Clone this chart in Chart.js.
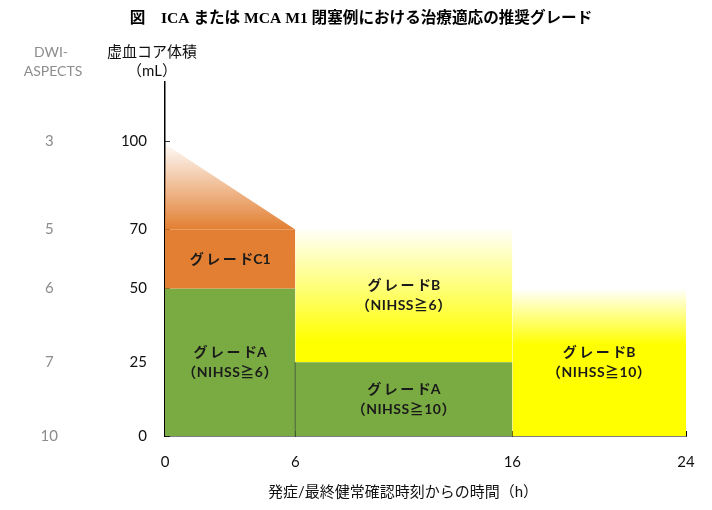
<!DOCTYPE html>
<html>
<head>
<meta charset="utf-8">
<script src="https://cdn.jsdelivr.net/npm/chart.js@4.4.1/dist/chart.umd.min.js"></script>
<style>
  html, body { margin: 0; padding: 0; background: #fff; }
  #wrap { width: 712px; height: 510px; }
</style>
</head>
<body>
<div id="wrap"><canvas id="chart"></canvas></div>
<script>
// time axis (h) and core volume axis (mL)
const hours = [0, 6, 16, 24];
const coreTicks = [0, 25, 50, 70, 100];
const aspectsTicks = ['10', '7', '6', '5', '3'];

// region outlines: [hours, core volume]
const gradeC1 = [[0, 70], [6, 70]];        // from 50
const gradeC1Fade = [[0, 99], [6, 70]];    // from 70
const gradeA6 = [[0, 50], [6, 50]];        // from 0
const gradeA10 = [[6, 25], [16, 25]];      // from 0
const gradeB6 = [[6, 70], [16, 70]];       // from 25
const gradeB10 = [[16, 50], [24, 50]];     // from 0
const splitLine = [[6, 0], [6, 25]];

// label text and where it sits (hours, mL)
const gradeLabels = [
  { x: 3, y: 60, grade: 'C1', sub: null },
  { x: 3, y: 25, grade: 'A', sub: '（NIHSS≧6）' },
  { x: 11, y: 47.5, grade: 'B', sub: '（NIHSS≧6）' },
  { x: 11, y: 12.5, grade: 'A', sub: '（NIHSS≧10）' },
  { x: 20, y: 25, grade: 'B', sub: '（NIHSS≧10）' }
];

const TITLE = '図　ICA または MCA M1 閉塞例における治療適応の推奨グレード';
const JP = "'Lato', 'Noto Sans CJK JP', sans-serif";
const ORANGE = '#E27F32';
const GREEN = '#7AAB43';

const pts = (arr) => arr.map(p => ({ x: p[0], y: p[1] }));

// vertical fade: transparent at "from", solid at "to"
const fade = (rgb, from, to) => (context) => {
  const chart = context.chart;
  if (!chart.chartArea) return 'rgba(' + rgb + ',1)';
  const y = chart.scales.y;
  const g = chart.ctx.createLinearGradient(0, y.getPixelForValue(from), 0, y.getPixelForValue(to));
  g.addColorStop(0, 'rgba(' + rgb + ',0)');
  g.addColorStop(1, 'rgba(' + rgb + ',1)');
  return g;
};

const area = (data, base, color) => ({
  data: pts(data),
  borderWidth: 0,
  borderColor: 'rgba(0,0,0,0)',
  backgroundColor: color,
  fill: base === 0 ? 'origin' : { value: base }
});

const labelPlugin = {
  id: 'labels',
  afterDatasetsDraw(chart) {
    const { ctx, scales } = chart;
    ctx.save();
    ctx.fillStyle = '#1a1a1a';
    ctx.font = 'bold 14px ' + JP;
    ctx.textBaseline = 'middle';
    gradeLabels.forEach(l => {
      const px = scales.x.getPixelForValue(l.x);
      const py = scales.y.getPixelForValue(l.y);
      const top = l.sub ? py - 10 : py;
      // katakana spaced out, grade letter tight
      ctx.letterSpacing = '2.5px';
      const wKana = ctx.measureText('グレー').width + ctx.measureText('ド').width - 2.5;
      ctx.letterSpacing = '0px';
      const wGrade = ctx.measureText(l.grade).width;
      let x0 = px - (wKana + wGrade) / 2;
      ctx.textAlign = 'left';
      ctx.letterSpacing = '2.5px';
      ctx.fillText('グレー', x0, top);
      ctx.letterSpacing = '0px';
      ctx.fillText('ド' + l.grade, x0 + wKana - ctx.measureText('ド').width, top);
      if (l.sub) {
        ctx.textAlign = 'center';
        ctx.letterSpacing = '0.5px';
        ctx.fillText(l.sub, px, top + 20);
      }
    });
    ctx.restore();
  },
  afterDraw(chart) {
    const { ctx, chartArea } = chart;
    ctx.save();
    ctx.textAlign = 'center';
    ctx.textBaseline = 'middle';
    ctx.fillStyle = '#000';
    ctx.font = "bold 15.6px 'Liberation Serif', 'Noto Sans CJK JP', serif";
    ctx.fillText(TITLE, 361, 19);
    ctx.fillStyle = '#111';
    ctx.font = '15px ' + JP;
    ctx.fillText('虚血コア体積', chartArea.left - 13, chartArea.top - 30);
    ctx.fillText('（mL）', chartArea.left - 13, chartArea.top - 11);
    ctx.fillStyle = '#8c8c8c';
    ctx.font = '14px ' + JP;
    ctx.fillText('DWI-', 51, chartArea.top - 30);
    ctx.fillText('ASPECTS', 53, chartArea.top - 11);
    ctx.fillStyle = '#111';
    ctx.font = '15px ' + JP;
    ctx.fillText('発症/最終健常確認時刻からの時間（h）', 403, chartArea.bottom + 56);
    ctx.restore();
  }
};

new Chart(document.getElementById('chart'), {
  type: 'line',
  data: {
    datasets: [
      { ...area(splitLine, 0, 'rgba(0,0,0,0)'), fill: false, borderWidth: 1, borderColor: '#3f5e28' },
      area(gradeC1, 50, ORANGE),
      area(gradeC1Fade, 70, fade('226,127,50', 100, 70)),
      area(gradeA6, 0, GREEN),
      area(gradeA10, 0, GREEN),
      area(gradeB6, 25, fade('255,255,0', 71, 32)),
      area(gradeB10, 0, fade('255,255,0', 50, 31))
    ]
  },
  options: {
    responsive: true,
    maintainAspectRatio: false,
    animation: false,
    layout: { padding: { left: 0, right: 26, top: 82, bottom: 0 } },
    elements: { point: { radius: 0, hoverRadius: 0 }, line: { tension: 0 } },
    plugins: {
      legend: { display: false },
      tooltip: { enabled: false },
      title: { display: false }
    },
    scales: {
      x: {
        type: 'linear',
        min: 0,
        max: 24,
        afterBuildTicks: (s) => { s.ticks = hours.map(v => ({ value: v })); },
        afterFit: (s) => { s.height = 74; s.paddingLeft = 0; s.paddingRight = 0; },
        border: { color: '#000', width: 1.5 },
        grid: { drawOnChartArea: false, tickLength: -5, color: '#000' },
        ticks: { color: '#111', padding: 22, font: { family: JP, size: 15 } }
      },
      y: {
        type: 'linear',
        position: 'left',
        weight: 0,
        z: 1,
        min: 0,
        max: 120,
        afterBuildTicks: (s) => { s.ticks = coreTicks.map(v => ({ value: v })); },
        afterFit: (s) => { s.width = 65; s.paddingTop = 0; s.paddingBottom = 0; },
        border: { color: '#000', width: 1.5 },
        grid: { drawOnChartArea: false, tickLength: -5, color: '#333' },
        ticks: { color: '#111', padding: 23, font: { family: JP, size: 15 } }
      },
      y2: {
        type: 'linear',
        position: 'left',
        weight: 1,
        min: 0,
        max: 120,
        afterBuildTicks: (s) => { s.ticks = coreTicks.map(v => ({ value: v })); },
        afterFit: (s) => { s.width = 100; s.paddingTop = 0; s.paddingBottom = 0; },
        border: { display: false },
        grid: { display: false, drawTicks: false },
        ticks: {
          color: '#8c8c8c',
          crossAlign: 'center',
          padding: 42,
          font: { family: JP, size: 15 },
          callback: (v) => aspectsTicks[coreTicks.indexOf(v)]
        }
      }
    }
  },
  plugins: [labelPlugin]
});
</script>
</body>
</html>
